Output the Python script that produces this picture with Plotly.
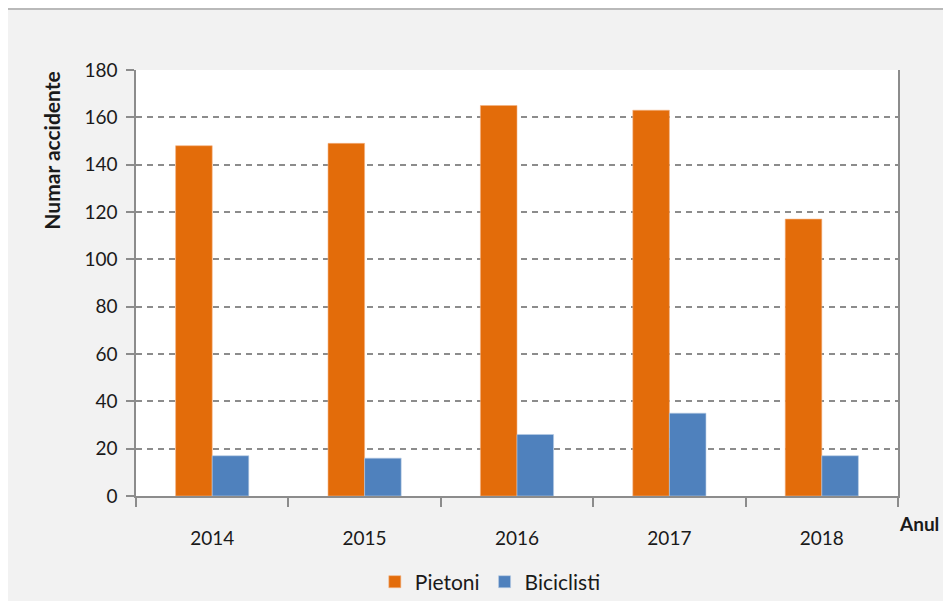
import plotly.graph_objects as go

# ---- Data ----
YEARS = ["2014", "2015", "2016", "2017", "2018"]
PIETONI = [148, 149, 165, 163, 117]
BICICLISTI = [17, 16, 26, 35, 17]

ORANGE = "#E36C0A"
BLUE = "#4F81BD"
AXIS_GREY = "#8c8c8c"
FONT = "Lato, Carlito, Calibri, sans-serif"

fig = go.Figure()
fig.add_trace(go.Bar(x=YEARS, y=PIETONI, name="Pietoni", marker_color=ORANGE,
                     marker_line=dict(color="#f4b183", width=0.6)))
fig.add_trace(go.Bar(x=YEARS, y=BICICLISTI, name="Biciclisti", marker_color=BLUE,
                     marker_line=dict(color="#b8cce4", width=0.6)))

# page body adds ~8px offset, so the figure is 8px smaller and margins shifted
fig.update_layout(
    width=943,
    height=593,
    margin=dict(l=128, r=53, t=62, b=105, autoexpand=False),
    paper_bgcolor="#f2f2f2",
    plot_bgcolor="white",
    font=dict(family=FONT, size=19, color="#1a1a1a"),
    barmode="group",
    bargap=0.52,
    bargroupgap=0,
    showlegend=True,
    legend=dict(orientation="h", x=0.465, xanchor="center", y=-0.202, yanchor="middle",
                font=dict(size=21), itemwidth=30, traceorder="normal",
                bgcolor="rgba(0,0,0,0)"),
    xaxis=dict(
        showgrid=False,
        showline=True,
        linecolor=AXIS_GREY,
        linewidth=1.5,
        ticks="outside",
        tickson="boundaries",
        ticklen=9,
        tickcolor=AXIS_GREY,
        tickwidth=1.5,
        ticklabelstandoff=24,
        tickfont=dict(size=19),
    ),
    yaxis=dict(
        range=[0, 180],
        dtick=20,
        showgrid=True,
        gridcolor="#8c8c8c",
        griddash="6px,5px",
        gridwidth=1.5,
        showline=True,
        mirror=True,
        linecolor=AXIS_GREY,
        linewidth=1.5,
        ticks="outside",
        ticklen=8,
        tickcolor=AXIS_GREY,
        tickwidth=1.5,
        zeroline=False,
        ticklabelstandoff=5,
        tickfont=dict(size=19),
    ),
    shapes=[
        dict(type="rect", xref="paper", yref="paper",
             x0=-0.1732, x1=1.3, y0=-0.4, y1=1.1432,
             line=dict(color="#a6a6a6", width=1.5), fillcolor="rgba(0,0,0,0)",
             layer="below"),
    ],
    annotations=[
        dict(text="<b>Numar accidente</b>", xref="paper", yref="paper",
             x=-0.112, y=1.0, xanchor="center", yanchor="top", textangle=-90,
             showarrow=False, font=dict(size=21)),
        dict(text="<b>Anul</b>", xref="paper", yref="paper", x=0.999, y=-0.033,
             xanchor="left", yanchor="top", showarrow=False, font=dict(size=19)),
    ],
)

fig.write_html("out.html")
